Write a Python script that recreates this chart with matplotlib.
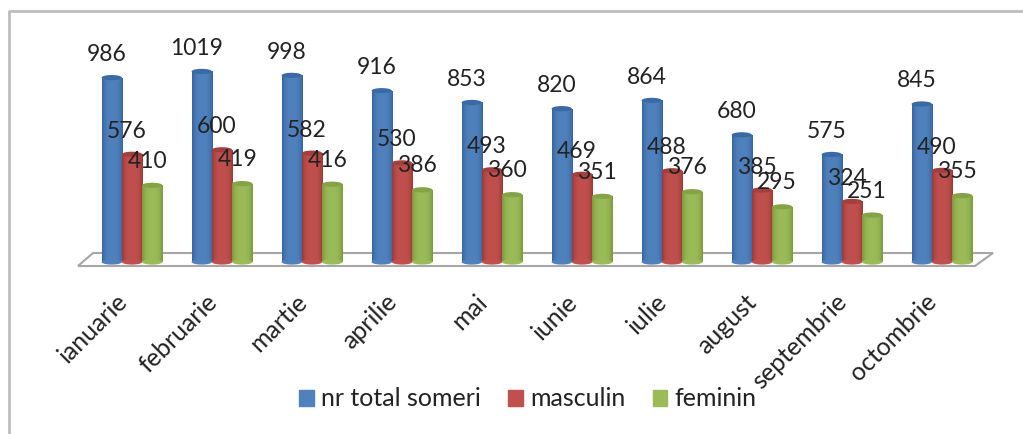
import numpy as np
import matplotlib
matplotlib.use('Agg')
import matplotlib.pyplot as plt
from matplotlib.patches import Ellipse, Polygon, Rectangle
from matplotlib.transforms import ScaledTranslation

# values
months = ['ianuarie', 'februarie', 'martie', 'aprilie', 'mai', 'iunie', 'iulie', 'august', 'septembrie', 'octombrie']
total = [986, 1019, 998, 916, 853, 820, 864, 680, 575, 845]
masculin = [576, 600, 582, 530, 493, 469, 488, 385, 324, 490]
feminin = [410, 419, 416, 386, 360, 351, 376, 295, 251, 355]
names = ['nr total someri', 'masculin', 'feminin']

W, H = 1023, 434
plt.rcParams['font.family'] = ['Lato', 'DejaVu Sans']
fig = plt.figure(figsize=(W/100, H/100), dpi=100)

# axes box in pixels
left, right, top, base = 78, 975, 40, 262
ax = fig.add_axes([left/W, 1-base/H, (right-left)/W, (base-top)/H])
ax.patch.set_alpha(0)
for s in ax.spines.values():
    s.set_visible(False)
ax.set_yticks([])

# pixel overlay for the frame and floor
bg = fig.add_axes([0, 0, 1, 1], zorder=-1)
bg.set_xlim(0, W)
bg.set_ylim(H, 0)
bg.axis('off')
bg.plot([9, 9, 1023], [434, 11, 11], color='#bdbdbd', lw=2)
bg.add_patch(Polygon([(78, 266), (975, 266), (993, 253), (93, 253)], closed=True,
                     facecolor='white', edgecolor='#a6a6a6', lw=1.5))

width = 0.225
ell_h = 28
series = [(total, -width, '#4f81bd', '#37659f', '#3a6aa5'),
          (masculin, 0, '#c0504d', '#9c3a37', '#a53f3c'),
          (feminin, width, '#9bbb59', '#7a9a3c', '#84a345')]


def shade(col, dark):
    a = np.array(matplotlib.colors.to_rgb(dark))
    b = np.array(matplotlib.colors.to_rgb(col))
    t = np.abs(np.linspace(-1, 1, 32))[None, :, None] ** 3
    return a*t + b*(1-t)


for vals, off, col, dark, cap in series:
    img = shade(col, dark)
    for i, v in enumerate(vals):
        x0 = i + off - width/2
        r = Rectangle((x0, 0), width, v, transform=ax.transData)
        im = ax.imshow(img, extent=[x0, x0+width, 0, v], aspect='auto', zorder=3+off)
        im.set_clip_path(r)
        ax.add_patch(Ellipse((i+off, 0), width, ell_h, facecolor=col, edgecolor='none', zorder=3+off, clip_on=False))
        ax.add_patch(Ellipse((i+off, v), width, ell_h, facecolor=cap, edgecolor='none', zorder=3.01+off))
        dy = {-width: 23, 0: 23, width: 24}[off]
        ax.annotate(str(v), (i+off, v), xytext=(-5, dy), textcoords='offset pixels',
                    ha='center', va='center', fontsize=16.5, color='#222222', zorder=6)

ax.set_xlim((left-132)/90, (right-132)/90)
ax.set_ylim(0, (base-top)/0.187)
ax.set_xticks(range(len(months)))
ax.set_xticklabels(months, rotation=45, ha='right', rotation_mode='anchor', fontsize=18, color='#222222')
ax.tick_params(axis='x', length=0, pad=20)
for lab in ax.get_xticklabels():
    lab.set_transform(lab.get_transform() + ScaledTranslation(-17/100, 0, fig.dpi_scale_trans))

# legend
handles = [Rectangle((0, 0), 1, 1, color=s[2]) for s in series]
fig.legend(handles, names, loc='center', bbox_to_anchor=(528/W, 1-399/H), ncol=3, frameon=False,
           fontsize=18, handlelength=0.57, handleheight=0.6, handletextpad=0.3, columnspacing=1.1,
           labelcolor='#222222')

fig.savefig('out.png', dpi=100)
